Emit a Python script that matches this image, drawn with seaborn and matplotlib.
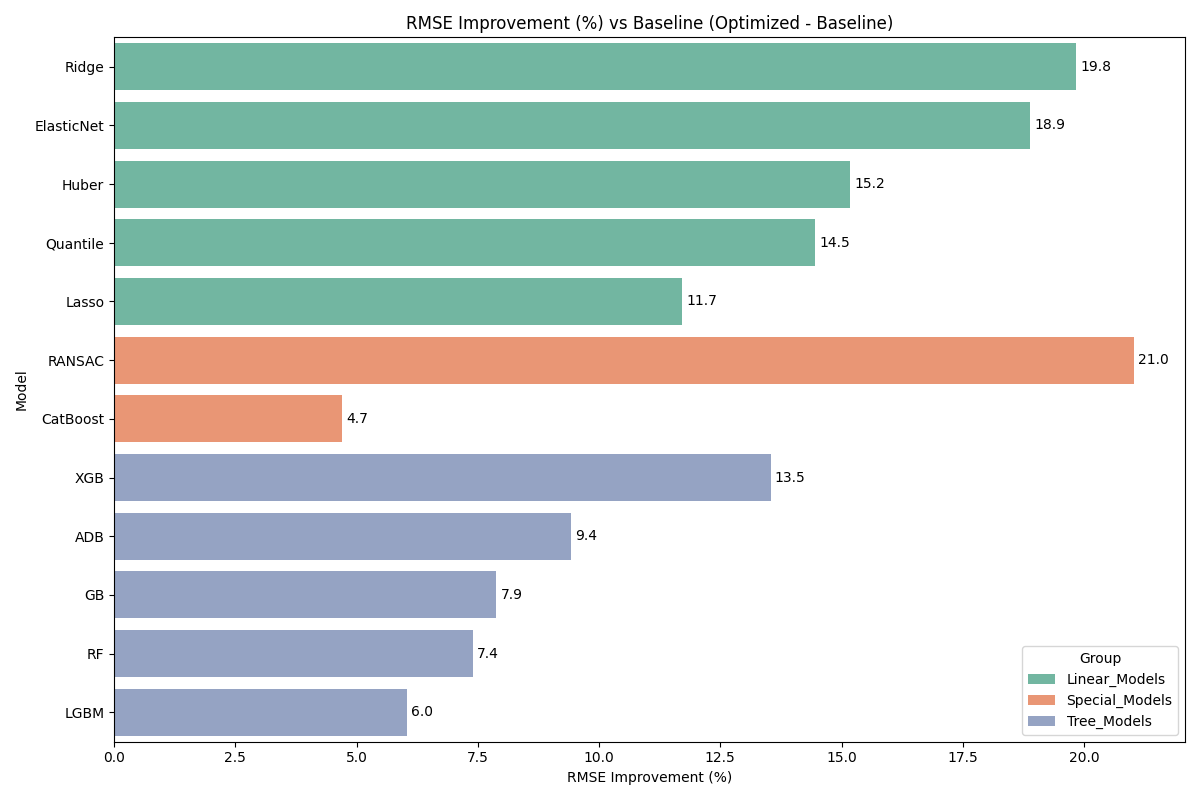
import pandas as pd
import matplotlib.pyplot as plt
import seaborn as sns

# Chart data
models = ["Ridge", "ElasticNet", "Huber", "Quantile", "Lasso", "RANSAC", "CatBoost",
          "XGB", "ADB", "GB", "RF", "LGBM"]
improvement = [19.84, 18.89, 15.18, 14.46, 11.71, 21.03, 4.70, 13.54, 9.42, 7.88, 7.40, 6.04]
groups = ["Linear_Models"] * 5 + ["Special_Models"] * 2 + ["Tree_Models"] * 5

df = pd.DataFrame({"Model": models, "RMSE Improvement (%)": improvement, "Group": groups})

plt.figure(figsize=(12, 8))
ax = sns.barplot(
    data=df,
    x="RMSE Improvement (%)",
    y="Model",
    hue="Group",
    palette="Set2",
    dodge=False)

for container in ax.containers:
    ax.bar_label(container, fmt="%.1f", padding=3)

plt.title("RMSE Improvement (%) vs Baseline (Optimized - Baseline)")
plt.xlabel("RMSE Improvement (%)")
plt.ylabel("Model")
plt.legend(title="Group", loc="lower right")
plt.tight_layout()
plt.savefig("out.png", dpi=100)
